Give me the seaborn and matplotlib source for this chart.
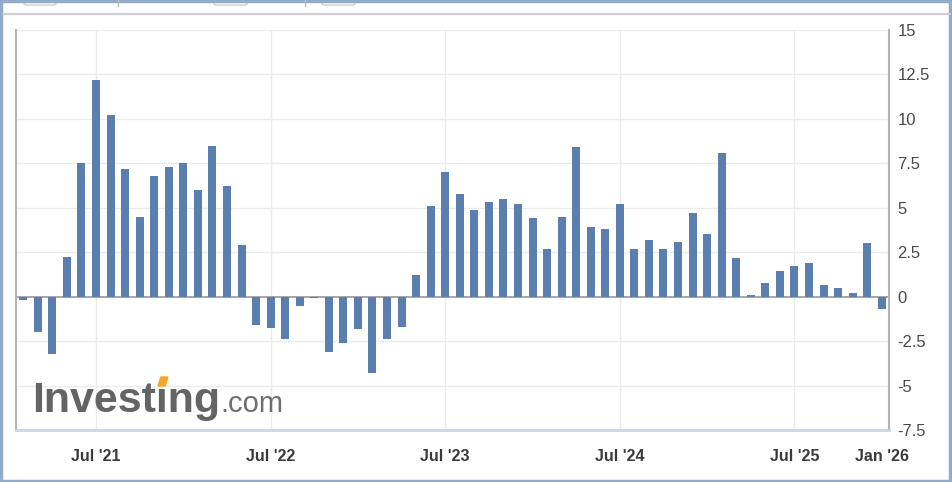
import numpy as np
import pandas as pd
import matplotlib
matplotlib.use('Agg')
import matplotlib.pyplot as plt
import matplotlib.patches as mpatches
import seaborn as sns

# monthly values, Feb 2021 .. Jan 2026
months = pd.date_range('2021-02-01', '2026-01-01', freq='MS')
values = [
    -0.2, -2.0, -3.2, 2.25, 7.5, 12.2, 10.2, 7.2, 4.5, 6.8, 7.3,          # 2021
    7.5, 6.0, 8.5, 6.2, 2.9, -1.6, -1.75, -2.4, -0.55, -0.1, -3.1, -2.6,  # 2022
    -1.8, -4.3, -2.4, -1.7, 1.2, 5.1, 7.0, 5.75, 4.85, 5.3, 5.5, 5.2,     # 2023
    4.4, 2.7, 4.5, 8.4, 3.9, 3.8, 5.2, 2.7, 3.2, 2.7, 3.1, 4.7,           # 2024
    3.5, 8.1, 2.15, 0.1, 0.75, 1.45, 1.7, 1.9, 0.65, 0.47, 0.2, 3.0,      # 2025
    -0.7,                                                                 # 2026
]
tick_months = ['2021-07', '2022-07', '2023-07', '2024-07', '2025-07', '2026-01']
tick_labels = ["Jul '21", "Jul '22", "Jul '23", "Jul '24", "Jul '25", "Jan '26"]
y_ticks = [-7.5, -5, -2.5, 0, 2.5, 5, 7.5, 10, 12.5, 15]

df = pd.DataFrame({'month': months.strftime('%Y-%m'), 'value': values})

sns.set_style('white')
plt.rcParams['font.family'] = ['Liberation Sans', 'DejaVu Sans']

fig = plt.figure(figsize=(9.52, 4.82), dpi=100)
ax = fig.add_axes([16 / 952, 1 - 430 / 482, (889 - 16) / 952, 400 / 482])

sns.barplot(data=df, x='month', y='value', color='#5a7eae', saturation=1,
            width=0.55, linewidth=0, ax=ax, zorder=3)

ax.set_xlim(-0.5, len(values) - 0.5)
ax.set_ylim(-7.5, 15)

# ticks
month_list = list(df['month'])
tick_pos = [month_list.index(m) for m in tick_months]
ax.set_xticks(tick_pos)
ax.set_xticklabels(tick_labels, fontsize=11.5, fontweight='bold', color='#3a3a3a')
ax.tick_params(axis='x', length=0, pad=14)

ax.yaxis.tick_right()
ax.set_yticks(y_ticks)
ax.set_yticklabels([f'{t:g}' for t in y_ticks], fontsize=12, color='#4a4a4a')
ax.tick_params(axis='y', length=0, pad=6)
for lbl in ax.get_yticklabels():
    lbl.set_horizontalalignment('left')

ax.set_xlabel('')
ax.set_ylabel('')

# grid
for y in y_ticks:
    ax.axhline(y, color='#ebebeb', lw=1, zorder=0)
for x in tick_pos[:-1]:
    ax.axvline(x, color='#ebebeb', lw=1, zorder=0)
ax.axhline(0, color='#a0a0a0', lw=1.3, zorder=2)

for side in ['left', 'right']:
    ax.spines[side].set_color('#b4b4b4')
    ax.spines[side].set_linewidth(1.5)
ax.spines['top'].set_visible(False)
ax.spines['bottom'].set_color('#c9d6e6')
ax.spines['bottom'].set_linewidth(2)

# watermark
fig.text(32 / 952, 1 - 412 / 482, 'Invest\u0131ng', fontsize=31, fontweight='bold',
         color='#646464', ha='left', va='baseline')
fig.text(220 / 952, 1 - 412 / 482, '.com', fontsize=21, color='#6e6e6e',
         ha='left', va='baseline')
W, H = 952, 482
accent = mpatches.Polygon([(158 / W, 1 - 386 / H), (165 / W, 1 - 386 / H),
                           (168 / W, 1 - 377 / H), (161 / W, 1 - 377 / H)],
                          closed=True, transform=fig.transFigure,
                          color='#f6a623', zorder=10)
fig.patches.append(accent)

# top toolbar remnants and outer frame
fig.add_artist(plt.Line2D([3 / W, 950 / W], [1 - 14 / H, 1 - 14 / H],
                          color='#cfcfcf', lw=1.5, transform=fig.transFigure))
for x0, x1 in [(24, 56), (214, 247), (322, 355)]:
    fig.add_artist(mpatches.FancyBboxPatch((x0 / W, 1 - 5 / H), (x1 - x0) / W, 8 / H,
                                           boxstyle='round,pad=0,rounding_size=0.003',
                                           transform=fig.transFigure, fill=False,
                                           ec='#cfcfcf', lw=1))
for x in [118, 305]:
    fig.add_artist(plt.Line2D([x / W, x / W], [1 - 0 / H, 1 - 6 / H],
                              color='#bdbdbd', lw=1, transform=fig.transFigure))
fig.add_artist(mpatches.Rectangle((0.001, 0.002), 0.997, 0.996, transform=fig.transFigure,
                                  fill=False, ec='#94abc8', lw=2.5))

plt.savefig('out.png', dpi=100)
